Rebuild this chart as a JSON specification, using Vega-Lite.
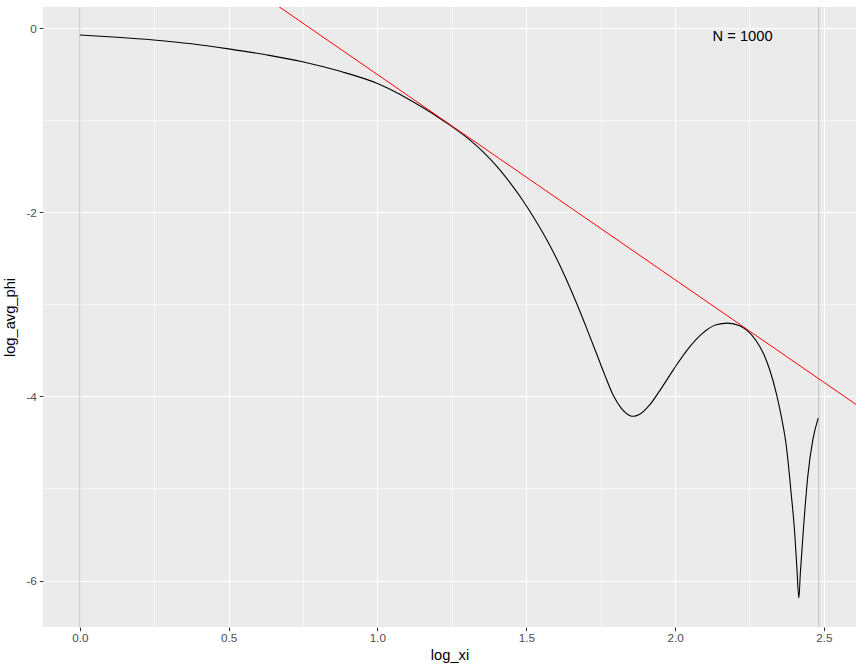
{
  "$schema": "https://vega.github.io/schema/vega-lite/v6.json",
  "width": 813,
  "height": 620,
  "autosize": {"type": "none"},
  "padding": {"left": 43, "top": 7, "right": 8, "bottom": 45},
  "background": "white",
  "datasets": {
    "curve": [
      {"log_xi": 0.0, "log_avg_phi": -0.073},
      {"log_xi": 0.125, "log_avg_phi": -0.097},
      {"log_xi": 0.248, "log_avg_phi": -0.127},
      {"log_xi": 0.375, "log_avg_phi": -0.168},
      {"log_xi": 0.5, "log_avg_phi": -0.224},
      {"log_xi": 0.625, "log_avg_phi": -0.288},
      {"log_xi": 0.748, "log_avg_phi": -0.363},
      {"log_xi": 0.875, "log_avg_phi": -0.468},
      {"log_xi": 1.0, "log_avg_phi": -0.600},
      {"log_xi": 1.07, "log_avg_phi": -0.708},
      {"log_xi": 1.141, "log_avg_phi": -0.840},
      {"log_xi": 1.2, "log_avg_phi": -0.958},
      {"log_xi": 1.242, "log_avg_phi": -1.050},
      {"log_xi": 1.309, "log_avg_phi": -1.210},
      {"log_xi": 1.354, "log_avg_phi": -1.340},
      {"log_xi": 1.399, "log_avg_phi": -1.492},
      {"log_xi": 1.444, "log_avg_phi": -1.672},
      {"log_xi": 1.489, "log_avg_phi": -1.874},
      {"log_xi": 1.522, "log_avg_phi": -2.040},
      {"log_xi": 1.567, "log_avg_phi": -2.287},
      {"log_xi": 1.601, "log_avg_phi": -2.497},
      {"log_xi": 1.634, "log_avg_phi": -2.725},
      {"log_xi": 1.668, "log_avg_phi": -2.980},
      {"log_xi": 1.702, "log_avg_phi": -3.252},
      {"log_xi": 1.735, "log_avg_phi": -3.525},
      {"log_xi": 1.763, "log_avg_phi": -3.760},
      {"log_xi": 1.791, "log_avg_phi": -3.980},
      {"log_xi": 1.819, "log_avg_phi": -4.128},
      {"log_xi": 1.847, "log_avg_phi": -4.206},
      {"log_xi": 1.860, "log_avg_phi": -4.216},
      {"log_xi": 1.878, "log_avg_phi": -4.200},
      {"log_xi": 1.914, "log_avg_phi": -4.095},
      {"log_xi": 1.948, "log_avg_phi": -3.940},
      {"log_xi": 1.998, "log_avg_phi": -3.692},
      {"log_xi": 2.049, "log_avg_phi": -3.462},
      {"log_xi": 2.093, "log_avg_phi": -3.312},
      {"log_xi": 2.138, "log_avg_phi": -3.222},
      {"log_xi": 2.177, "log_avg_phi": -3.203},
      {"log_xi": 2.217, "log_avg_phi": -3.232},
      {"log_xi": 2.258, "log_avg_phi": -3.335},
      {"log_xi": 2.284, "log_avg_phi": -3.455},
      {"log_xi": 2.300, "log_avg_phi": -3.555},
      {"log_xi": 2.318, "log_avg_phi": -3.710},
      {"log_xi": 2.340, "log_avg_phi": -3.963},
      {"log_xi": 2.357, "log_avg_phi": -4.217},
      {"log_xi": 2.374, "log_avg_phi": -4.543},
      {"log_xi": 2.390, "log_avg_phi": -5.049},
      {"log_xi": 2.402, "log_avg_phi": -5.483},
      {"log_xi": 2.409, "log_avg_phi": -5.846},
      {"log_xi": 2.416, "log_avg_phi": -6.189},
      {"log_xi": 2.421, "log_avg_phi": -5.917},
      {"log_xi": 2.432, "log_avg_phi": -5.411},
      {"log_xi": 2.446, "log_avg_phi": -4.868},
      {"log_xi": 2.463, "log_avg_phi": -4.470},
      {"log_xi": 2.481, "log_avg_phi": -4.235}
    ],
    "fit": [
      {"log_xi": -0.124, "log_avg_phi": 2.002},
      {"log_xi": 2.608, "log_avg_phi": -4.087}
    ],
    "vlines": [
      {"log_xi": 0.0},
      {"log_xi": 2.483}
    ],
    "label": [
      {"log_xi": 2.227, "log_avg_phi": -0.09, "text": "N = 1000"}
    ]
  },
  "layer": [
    {
      "data": {"name": "vlines"},
      "mark": {"type": "rule", "color": "#BEBEBE", "strokeWidth": 1},
      "encoding": {
        "x": {"field": "log_xi", "type": "quantitative"}
      }
    },
    {
      "data": {"name": "curve"},
      "mark": {"type": "line", "color": "black", "strokeWidth": 1.1, "interpolate": "monotone", "clip": true},
      "encoding": {
        "x": {
          "field": "log_xi",
          "type": "quantitative",
          "title": "log_xi",
          "scale": {"domain": [-0.124, 2.608], "nice": false, "zero": false},
          "axis": {
            "values": [0, 0.25, 0.5, 0.75, 1, 1.25, 1.5, 1.75, 2, 2.25, 2.5],
            "labelExpr": "datum.value % 0.5 == 0 ? format(datum.value, '.1f') : ''",
            "gridWidth": {"condition": {"test": "datum.value % 0.5 != 0", "value": 0.6}, "value": 1.1},
            "tickOpacity": {"condition": {"test": "datum.value % 0.5 != 0", "value": 0}, "value": 1},
            "labelPadding": 2,
            "titlePadding": 3
          }
        },
        "y": {
          "field": "log_avg_phi",
          "type": "quantitative",
          "title": "log_avg_phi",
          "scale": {"domain": [-6.505, 0.231], "nice": false, "zero": false},
          "axis": {
            "values": [-6, -5, -4, -3, -2, -1, 0],
            "labelExpr": "datum.value % 2 == 0 ? toString(datum.value) : ''",
            "gridWidth": {"condition": {"test": "datum.value % 2 != 0", "value": 0.6}, "value": 1.1},
            "tickOpacity": {"condition": {"test": "datum.value % 2 != 0", "value": 0}, "value": 1},
            "labelPadding": 3,
            "titlePadding": 8
          }
        },
        "order": {"field": "log_xi", "type": "quantitative"}
      }
    },
    {
      "data": {"name": "fit"},
      "mark": {"type": "line", "color": "#FF0000", "strokeWidth": 1, "clip": true},
      "encoding": {
        "x": {"field": "log_xi", "type": "quantitative"},
        "y": {"field": "log_avg_phi", "type": "quantitative"}
      }
    },
    {
      "data": {"name": "label"},
      "mark": {"type": "text", "font": "Liberation Sans", "fontSize": 14.7, "color": "black", "align": "center", "baseline": "middle"},
      "encoding": {
        "x": {"field": "log_xi", "type": "quantitative"},
        "y": {"field": "log_avg_phi", "type": "quantitative"},
        "text": {"field": "text"}
      }
    }
  ],
  "config": {
    "view": {"fill": "#EBEBEB", "stroke": null},
    "axis": {
      "domain": false,
      "gridColor": "#FFFFFF",
      "tickColor": "#333333",
      "tickSize": 3.7,
      "tickWidth": 1,
      "labelColor": "#4D4D4D",
      "labelFont": "Liberation Sans",
      "labelFontSize": 11.7,
      "titleFont": "Liberation Sans",
      "titleFontSize": 14.7,
      "titleFontWeight": "normal",
      "titleColor": "#000000"
    }
  }
}
